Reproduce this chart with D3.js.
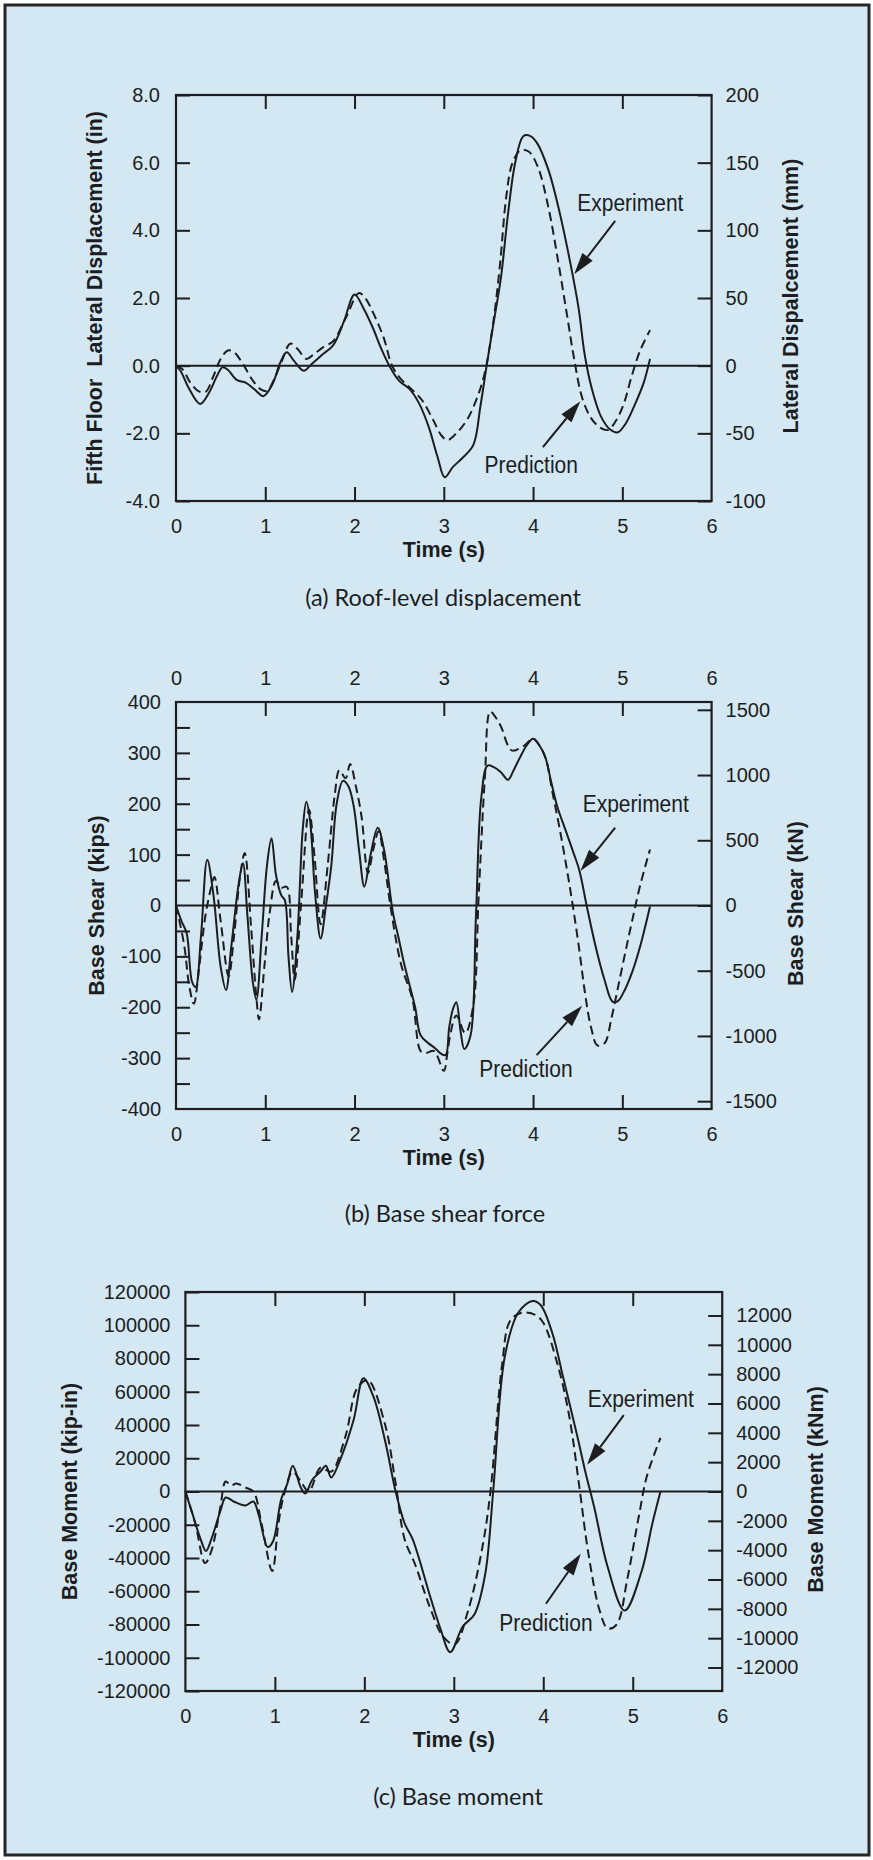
<!DOCTYPE html>
<html>
<head>
<meta charset="utf-8">
<script src="https://cdn.jsdelivr.net/npm/d3@7"></script>
<style>
  html, body { margin: 0; padding: 0; background: #ffffff; }
  svg { display: block; }
</style>
</head>
<body>
<svg id="chart" width="873" height="1860"></svg>
<script>
// ---------------- DATA ----------------
const timeTicks = [0, 1, 2, 3, 4, 5, 6];
const timeInnerTicks = [1, 2, 3, 4, 5];

const dispTicksIn = [-4, -2, 0, 2, 4, 6, 8];
const dispTicksMm = [-100, -50, 0, 50, 100, 150, 200];
const shearTicksKips = [-400, -300, -200, -100, 0, 100, 200, 300, 400];
const shearMinorKips = [-350, -300, -250, -200, -150, -100, -50, 50, 100, 150, 200, 250, 300, 350];
const shearTicksKN = [-1500, -1000, -500, 0, 500, 1000, 1500];
const momentTicksKipIn = [-120000, -100000, -80000, -60000, -40000, -20000, 0, 20000, 40000, 60000, 80000, 100000, 120000];
const momentTicksKNm = [-12000, -10000, -8000, -6000, -4000, -2000, 0, 2000, 4000, 6000, 8000, 10000, 12000];

// (a) Roof-level displacement, inches: [time s, value]
const dispExperiment = [[0,0],[0.05,-0.15],[0.15,-0.7],[0.27,-1.13],[0.37,-0.8],[0.46,-0.3],[0.52,-0.05],[0.58,-0.12],[0.68,-0.42],[0.78,-0.5],[0.88,-0.7],[0.98,-0.9],[1.08,-0.55],[1.17,0.1],[1.24,0.4],[1.32,0.15],[1.43,-0.15],[1.52,0.05],[1.64,0.33],[1.76,0.6],[1.88,1.3],[2.0,2.1],[2.1,1.7],[2.2,1.15],[2.3,0.5],[2.39,0],[2.5,-0.45],[2.62,-0.7],[2.72,-1.1],[2.83,-1.8],[2.93,-2.7],[3.01,-3.3],[3.1,-3.0],[3.2,-2.75],[3.33,-2.35],[3.41,-1.2],[3.48,0],[3.56,1.3],[3.64,2.6],[3.72,4.5],[3.8,6.0],[3.89,6.78],[3.96,6.8],[4.04,6.6],[4.17,5.8],[4.3,4.5],[4.42,3.0],[4.51,1.7],[4.58,0.3],[4.66,-0.7],[4.76,-1.5],[4.86,-1.88],[4.95,-1.97],[5.04,-1.7],[5.14,-1.15],[5.24,-0.5],[5.31,0.2]];
const dispPrediction = [[0,0],[0.07,-0.1],[0.16,-0.5],[0.25,-0.75],[0.33,-0.78],[0.42,-0.3],[0.5,0.2],[0.58,0.45],[0.65,0.4],[0.75,0.05],[0.85,-0.4],[0.95,-0.7],[1.02,-0.75],[1.1,-0.4],[1.18,0.1],[1.28,0.65],[1.36,0.5],[1.46,0.2],[1.55,0.35],[1.65,0.55],[1.76,0.72],[1.9,1.4],[2.05,2.15],[2.12,2.0],[2.22,1.5],[2.33,0.8],[2.42,0.0],[2.52,-0.4],[2.62,-0.65],[2.75,-1.0],[2.88,-1.6],[2.97,-2.05],[3.04,-2.2],[3.14,-2.0],[3.26,-1.6],[3.38,-0.9],[3.46,-0.2],[3.55,1.2],[3.63,3.0],[3.7,5.0],[3.77,6.0],[3.86,6.37],[3.95,6.33],[4.05,5.9],[4.17,4.7],[4.28,3.1],[4.38,1.5],[4.46,0.2],[4.55,-0.95],[4.65,-1.55],[4.75,-1.83],[4.84,-1.9],[4.93,-1.62],[5.02,-1.1],[5.1,-0.35],[5.2,0.45],[5.31,1.05]];

// (b) Base shear force, kips
const shearExperiment = [[0,0],[0.06,-30],[0.12,-55],[0.18,-150],[0.22,-160],[0.28,-60],[0.35,90],[0.42,20],[0.5,-120],[0.56,-166],[0.62,-80],[0.7,40],[0.75,83],[0.8,-20],[0.86,-150],[0.9,-185],[0.96,-60],[1.02,80],[1.07,132],[1.12,60],[1.18,20],[1.22,10],[1.26,-100],[1.3,-170],[1.36,-60],[1.42,150],[1.46,204],[1.5,170],[1.56,20],[1.62,-65],[1.68,0],[1.74,79],[1.8,200],[1.87,245],[1.93,235],[1.99,196],[2.05,110],[2.11,37],[2.18,100],[2.26,153],[2.33,110],[2.43,-14],[2.49,-61],[2.55,-110],[2.6,-145],[2.68,-201],[2.74,-255],[2.83,-271],[2.9,-280],[2.96,-290],[3.02,-294],[3.06,-240],[3.1,-205],[3.14,-190],[3.19,-250],[3.23,-282],[3.3,-255],[3.36,-22],[3.42,212],[3.49,275],[3.56,272],[3.64,262],[3.72,247],[3.78,265],[3.85,290],[3.93,315],[4.0,328],[4.07,315],[4.14,290],[4.2,245],[4.27,195],[4.36,150],[4.45,105],[4.52,68],[4.6,0],[4.7,-80],[4.8,-146],[4.89,-189],[4.95,-188],[5.03,-165],[5.11,-131],[5.2,-80],[5.31,-2]];
const shearPrediction = [[0,0],[0.09,-76],[0.15,-160],[0.2,-193],[0.26,-120],[0.33,-20],[0.39,33],[0.43,56],[0.5,-30],[0.59,-139],[0.65,-60],[0.72,60],[0.77,103],[0.84,-40],[0.9,-180],[0.93,-224],[0.99,-120],[1.05,-14],[1.12,48],[1.18,35],[1.24,37],[1.29,-60],[1.33,-146],[1.4,0],[1.49,188],[1.55,100],[1.62,-37],[1.7,80],[1.78,220],[1.83,266],[1.9,250],[1.95,278],[2.02,230],[2.08,173],[2.15,64],[2.21,110],[2.27,146],[2.33,90],[2.4,2],[2.52,-115],[2.65,-185],[2.74,-286],[2.8,-290],[2.89,-286],[3.0,-325],[3.04,-290],[3.08,-247],[3.14,-216],[3.24,-251],[3.33,-197],[3.39,17],[3.46,251],[3.52,381],[3.58,370],[3.64,352],[3.76,305],[3.89,313],[4.0,328],[4.07,315],[4.14,290],[4.22,220],[4.3,149],[4.38,70],[4.45,-6],[4.52,-90],[4.58,-170],[4.65,-240],[4.72,-275],[4.8,-271],[4.88,-220],[4.95,-162],[5.03,-95],[5.11,-30],[5.2,40],[5.31,110]];

// (c) Base moment, kip-in
const momentExperiment = [[0,0],[0.07,-11900],[0.17,-28700],[0.23,-35800],[0.29,-28700],[0.39,-11900],[0.45,-3600],[0.54,-6000],[0.67,-8400],[0.76,-6000],[0.82,-14300],[0.92,-33400],[0.98,-29900],[1.07,-4800],[1.14,4800],[1.2,15500],[1.29,2400],[1.34,-1200],[1.42,7200],[1.51,12000],[1.57,15500],[1.63,8400],[1.73,19100],[1.88,43000],[1.99,68100],[2.1,57300],[2.23,31000],[2.35,0],[2.45,-19100],[2.54,-28700],[2.73,-62100],[2.85,-82400],[2.96,-96700],[3.1,-81200],[3.23,-74000],[3.35,-50100],[3.44,0],[3.57,81200],[3.72,107500],[3.88,114600],[3.97,112200],[4.1,95500],[4.22,69200],[4.38,33400],[4.47,11900],[4.57,-9600],[4.72,-45400],[4.91,-71600],[5.1,-47800],[5.22,-19100],[5.31,0]];
const momentPrediction = [[0,0],[0.11,-19100],[0.22,-43000],[0.29,-35800],[0.39,-9600],[0.45,6000],[0.51,3600],[0.57,4800],[0.67,2400],[0.76,0],[0.85,-19100],[0.97,-47800],[1.04,-19100],[1.1,-2400],[1.2,11900],[1.29,6000],[1.38,0],[1.51,14300],[1.63,12000],[1.79,33400],[1.92,62100],[2.04,66900],[2.23,40600],[2.35,4800],[2.45,-28700],[2.57,-44200],[2.73,-69200],[2.88,-87200],[3.01,-91900],[3.16,-71600],[3.32,-33400],[3.41,0],[3.54,76400],[3.63,102700],[3.76,107500],[3.91,106300],[4.0,101500],[4.16,76400],[4.29,45400],[4.41,0],[4.5,-35800],[4.63,-71600],[4.72,-82400],[4.82,-80000],[4.94,-52500],[5.07,-14300],[5.16,9600],[5.31,32200]];

// annotation anchors in data units: [textT, textV, fromT, fromV, tipT, tipV]
const dispExpNote = [5.09, 4.8, 4.92, 4.28, 4.46, 2.7];
const dispPredNote = [3.98, -2.94, 4.11, -2.41, 4.53, -1.05];
const shearExpNote = [5.15, 200, 4.92, 153, 4.53, 68];
const shearPredNote = [3.92, -321, 4.04, -294, 4.55, -197];
const momentExpNote = [5.09, 55600, 4.9, 45900, 4.49, 16100];
const momentPredNote = [4.03, -79400, 4.03, -67500, 4.42, -37400];

// ---------------- DRAWING ----------------
const svg = d3.select("#chart");
const INK = "#1d1d1f";
const BG = "#d3e8f2";
const tickFont = "'Liberation Sans', Arial, Helvetica, sans-serif";
const capFont = "Lato, 'Open Sans', sans-serif";

svg.append("rect").attr("x", 5).attr("y", 5).attr("width", 864).attr("height", 1850)
  .attr("fill", BG).attr("stroke", "#262626").attr("stroke-width", 3);

const fmtHyphen = f => v => f(v).replace("\u2212", "-");

function drawPanel(cfg) {
  const g = svg.append("g");
  const x = d3.scaleLinear().domain([0, 6]).range([cfg.left, cfg.right]);
  const yL = d3.scaleLinear().domain(cfg.leftDomain).range([cfg.bottom, cfg.top]);
  const yR = d3.scaleLinear().domain(cfg.rightDomain).range([cfg.bottom, cfg.top]);
  const TL = 14;

  const styleAxis = sel => {
    sel.select(".domain").remove();
    sel.selectAll("line").attr("stroke", INK).attr("stroke-width", 2);
    sel.selectAll("text").attr("fill", INK).attr("font-family", tickFont).attr("font-size", 20);
  };

  // tick marks (inward)
  g.append("g").attr("transform", `translate(${cfg.left},0)`)
    .call(d3.axisLeft(yL).tickValues(cfg.leftTickMarks).tickSize(-TL).tickFormat(""))
    .call(styleAxis);
  g.append("g").attr("transform", `translate(${cfg.right},0)`)
    .call(d3.axisRight(yR).tickValues(cfg.rightTicks).tickSize(-TL).tickFormat(""))
    .call(styleAxis);
  g.append("g").attr("transform", `translate(0,${cfg.top})`)
    .call(d3.axisTop(x).tickValues(timeInnerTicks).tickSize(-TL).tickFormat(""))
    .call(styleAxis);
  g.append("g").attr("transform", `translate(0,${cfg.bottom})`)
    .call(d3.axisBottom(x).tickValues(timeInnerTicks).tickSize(-TL).tickFormat(""))
    .call(styleAxis);

  // tick labels
  g.append("g").attr("transform", `translate(${cfg.left},0)`)
    .call(d3.axisLeft(yL).tickValues(cfg.leftTicks).tickSize(0).tickPadding(cfg.leftPad).tickFormat(cfg.leftFormat))
    .call(styleAxis);
  g.append("g").attr("transform", `translate(${cfg.right},0)`)
    .call(d3.axisRight(yR).tickValues(cfg.rightTicks).tickSize(0).tickPadding(14).tickFormat(cfg.rightFormat))
    .call(styleAxis);
  g.append("g").attr("transform", `translate(0,${cfg.bottom})`)
    .call(d3.axisBottom(x).tickValues(timeTicks).tickSize(0).tickPadding(18).tickFormat(d3.format("d")))
    .call(styleAxis);
  if (cfg.topLabels) {
    g.append("g").attr("transform", `translate(0,${cfg.top})`)
      .call(d3.axisTop(x).tickValues(timeTicks).tickSize(0).tickPadding(17).tickFormat(d3.format("d")))
      .call(styleAxis);
  }

  // frame
  g.append("rect").attr("x", cfg.left).attr("y", cfg.top)
    .attr("width", cfg.right - cfg.left).attr("height", cfg.bottom - cfg.top)
    .attr("fill", "none").attr("stroke", INK).attr("stroke-width", 2.2);

  // zero line
  g.append("line").attr("x1", cfg.left).attr("x2", cfg.right)
    .attr("y1", yL(0)).attr("y2", yL(0)).attr("stroke", INK).attr("stroke-width", 2);

  // curves
  const line = d3.line().x(d => x(d[0])).y(d => yL(d[1])).curve(d3.curveCatmullRom.alpha(0.5));
  g.append("path").datum(cfg.experiment).attr("d", line)
    .attr("fill", "none").attr("stroke", INK).attr("stroke-width", 2).attr("stroke-linejoin", "round");
  g.append("path").datum(cfg.prediction).attr("d", line)
    .attr("fill", "none").attr("stroke", INK).attr("stroke-width", 2)
    .attr("stroke-dasharray", "9,5");

  // annotations
  function note(label, a) {
    const tx = x(a[0]), ty = yL(a[1]);
    g.append("text").attr("x", tx).attr("y", ty).attr("text-anchor", "middle")
      .attr("dominant-baseline", "central").attr("font-family", tickFont)
      .attr("font-size", 21).attr("fill", INK)
      .attr("transform", `translate(${tx},${ty}) scale(1,1.1) translate(${-tx},${-ty})`)
      .text(label);
    const x0 = x(a[2]), y0 = yL(a[3]), x1 = x(a[4]), y1 = yL(a[5]);
    const dx = x1 - x0, dy = y1 - y0, len = Math.hypot(dx, dy);
    const ux = dx / len, uy = dy / len;
    const hl = 22, hw = 6.5;
    const bx = x1 - ux * hl, by = y1 - uy * hl;
    g.append("line").attr("x1", x0).attr("y1", y0).attr("x2", bx).attr("y2", by)
      .attr("stroke", INK).attr("stroke-width", 2);
    g.append("path")
      .attr("d", `M${x1},${y1}L${bx - uy * hw},${by + ux * hw}L${bx + uy * hw},${by - ux * hw}Z`)
      .attr("fill", INK);
  }
  note("Experiment", cfg.expNote);
  note("Prediction", cfg.predNote);

  // axis titles
  const title = (txt, tx, ty) => g.append("text")
    .attr("transform", `translate(${tx},${ty}) rotate(-90)`)
    .attr("text-anchor", "middle").attr("dominant-baseline", "central")
    .attr("font-family", tickFont).attr("font-weight", "bold").attr("font-size", 21.5)
    .attr("fill", INK).style("white-space", "pre").text(txt);
  title(cfg.leftTitle, cfg.leftTitleX, (cfg.top + cfg.bottom) / 2);
  title(cfg.rightTitle, cfg.rightTitleX, (cfg.top + cfg.bottom) / 2 - 2);

  g.append("text").attr("x", (cfg.left + cfg.right) / 2).attr("y", cfg.bottom + 49)
    .attr("text-anchor", "middle").attr("dominant-baseline", "central")
    .attr("font-family", tickFont).attr("font-weight", "bold").attr("font-size", 21.5)
    .attr("fill", INK).text("Time (s)");

  g.append("text").attr("x", cfg.captionX).attr("y", cfg.captionY)
    .attr("text-anchor", "middle").attr("dominant-baseline", "central")
    .attr("font-family", capFont).attr("font-size", 23.5)
    .attr("fill", INK).text(cfg.caption);
}

drawPanel({
  left: 176, right: 711.6, top: 95, bottom: 501,
  leftDomain: [-4, 8], rightDomain: [-100, 200],
  leftTicks: dispTicksIn, leftTickMarks: dispTicksIn, rightTicks: dispTicksMm,
  leftFormat: fmtHyphen(d3.format(".1f")), rightFormat: fmtHyphen(d3.format("d")), leftPad: 16,
  topLabels: false,
  experiment: dispExperiment, prediction: dispPrediction,
  expNote: dispExpNote, predNote: dispPredNote,
  leftTitle: "Fifth Floor  Lateral Displacement (in)", leftTitleX: 95,
  rightTitle: "Lateral Dispalcement (mm)", rightTitleX: 791,
  caption: "(a) Roof-level displacement", captionX: 443, captionY: 597
});

drawPanel({
  left: 176, right: 711.6, top: 702, bottom: 1109,
  leftDomain: [-400, 400], rightDomain: [-1560, 1560],
  leftTicks: shearTicksKips, leftTickMarks: shearMinorKips, rightTicks: shearTicksKN,
  leftFormat: fmtHyphen(d3.format("d")), rightFormat: fmtHyphen(d3.format("d")), leftPad: 15,
  topLabels: true,
  experiment: shearExperiment, prediction: shearPrediction,
  expNote: shearExpNote, predNote: shearPredNote,
  leftTitle: "Base Shear (kips)", leftTitleX: 97,
  rightTitle: "Base Shear (kN)", rightTitleX: 796,
  caption: "(b) Base shear force", captionX: 445, captionY: 1213
});

drawPanel({
  left: 185.4, right: 722.2, top: 1292, bottom: 1691,
  leftDomain: [-120000, 120000], rightDomain: [-13600, 13600],
  leftTicks: momentTicksKipIn, leftTickMarks: momentTicksKipIn, rightTicks: momentTicksKNm,
  leftFormat: fmtHyphen(d3.format("d")), rightFormat: fmtHyphen(d3.format("d")), leftPad: 15,
  topLabels: false,
  experiment: momentExperiment, prediction: momentPrediction,
  expNote: momentExpNote, predNote: momentPredNote,
  leftTitle: "Base Moment (kip-in)", leftTitleX: 70,
  rightTitle: "Base Moment (kNm)", rightTitleX: 816,
  caption: "(c) Base moment", captionX: 458, captionY: 1796
});
</script>
</body>
</html>
